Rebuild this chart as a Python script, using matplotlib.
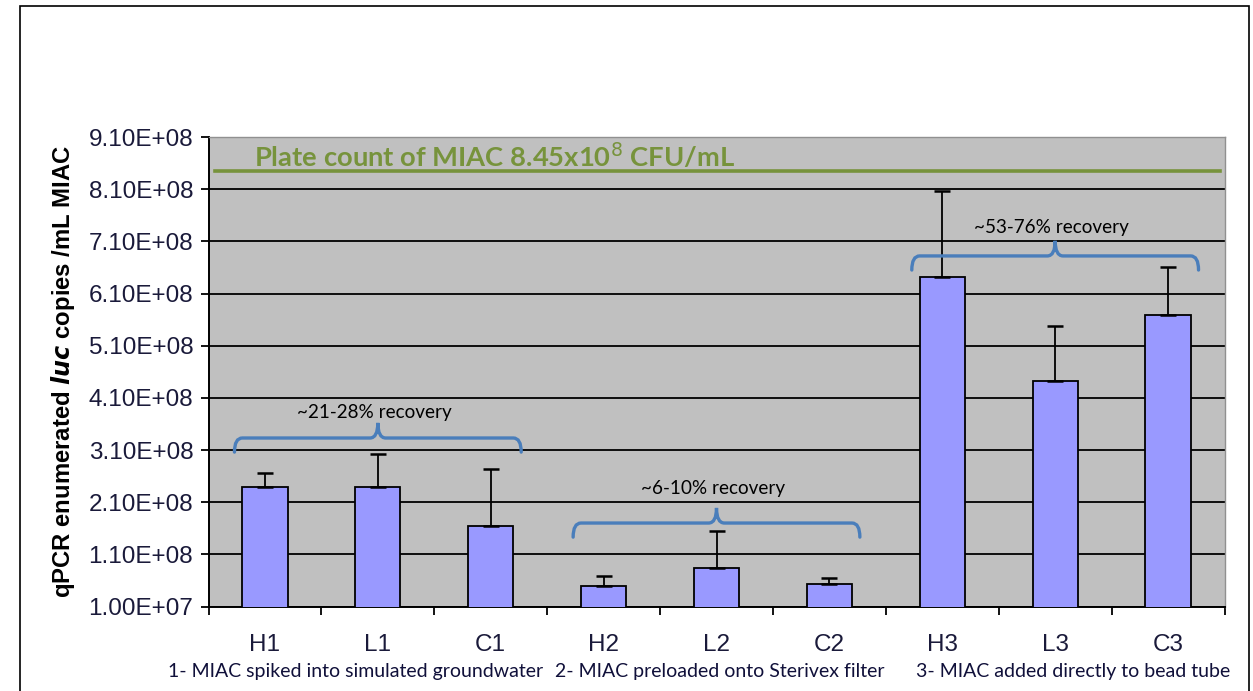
import numpy as np
import matplotlib.pyplot as plt
import matplotlib.transforms as mtransforms
from matplotlib.path import Path
from matplotlib.patches import PathPatch, Rectangle

# =========================
# Data
# =========================
categories = ["H1", "L1", "C1", "H2", "L2", "C2", "H3", "L3", "C3"]
means = [2.39e8, 2.39e8, 1.645e8, 4.96e7, 8.3e7, 5.35e7, 6.42e8, 4.43e8, 5.68e8]
err_upper = [2.7e7, 6.4e7, 1.085e8, 1.94e7, 7.1e7, 1.15e7, 1.65e8, 1.04e8, 9.3e7]
plate_count = 8.45e8
y_ticks = [1.0e7 + k * 1.0e8 for k in range(10)]
group_labels = ["1- MIAC spiked into simulated groundwater",
                "2- MIAC preloaded onto Sterivex filter",
                "3- MIAC added directly to bead tube"]
group_label_x = [0.80, 4.03, 7.16]
recovery_labels = ["~21-28% recovery", "~6-10% recovery", "~53-76% recovery"]
brace_levels = [3.06e8, 1.43e8, 6.55e8]   # value at brace tips
recovery_text_y = [3.81e8, 2.37e8, 7.36e8]


def brace(ax, x0, x1, ytip, color="#4A7EBB"):
    # curly bracket opening downward, drawn in data units
    yline = ytip + 0.27e8
    ypeak = yline + 0.29e8
    xm = 0.5 * (x0 + x1)
    rx = 0.07
    verts = [(x0, ytip), (x0, yline), (x0 + rx, yline),
             (xm - rx, yline), (xm, yline), (xm, ypeak),
             (xm, yline), (xm + rx, yline),
             (x1 - rx, yline), (x1, yline), (x1, ytip)]
    codes = [Path.MOVETO, Path.CURVE3, Path.CURVE3,
             Path.LINETO, Path.CURVE3, Path.CURVE3,
             Path.CURVE3, Path.CURVE3,
             Path.LINETO, Path.CURVE3, Path.CURVE3]
    ax.add_patch(PathPatch(Path(verts, codes), fill=False, edgecolor=color,
                           lw=2.4, capstyle="round", zorder=4))
    return xm


def main():
    W, H = 1253, 691
    fig = plt.figure(figsize=(W / 100, H / 100), dpi=100)
    fig.patch.set_facecolor("white")

    # chart area border
    fig.add_artist(Rectangle((20 / W, -0.05), 1229 / W, 1.05 - 6 / H,
                             transform=fig.transFigure, fill=False,
                             edgecolor="black", lw=1.2))

    ax = fig.add_axes([208.5 / W, 1 - 606.5 / H, 1016 / W, 469.5 / H])
    ax.set_facecolor("#C0C0C0")

    x = np.arange(len(categories))
    ax.bar(x, means, width=0.4, color="#9999FF", edgecolor="black",
           lw=1.3, zorder=3)
    ax.errorbar(x, means, yerr=[np.zeros(len(means)), err_upper], fmt="none",
                ecolor="black", elinewidth=1.3, capsize=6, capthick=1.8,
                zorder=3)

    # plate count line
    ax.axhline(plate_count, xmin=0.006, xmax=0.996, color="#77933C", lw=2.6,
               zorder=4)
    ax.text(-0.1, 8.74e8, "Plate count of MIAC 8.45x10$^{8}$ CFU/mL",
            color="#77933C", fontsize=19.7, fontweight="bold", family="Lato",
            va="center", ha="left", zorder=5)

    # recovery braces
    for g, (lab, yt, ty) in enumerate(zip(recovery_labels, brace_levels,
                                          recovery_text_y)):
        xc = 3 * g + 1
        xm = brace(ax, xc - 1.27, xc + 1.27, yt)
        ax.text(xm - 0.03, ty, lab, ha="center", va="center",
                fontsize=13.6, family="Lato", color="black", zorder=5)

    ax.set_xlim(-0.5, len(categories) - 0.5)
    ax.set_ylim(1.0e7, 9.1e8)
    ax.set_yticks(y_ticks)
    ax.set_yticklabels(["%.2fE+%02d" % (v / 10 ** int(np.floor(np.log10(v))),
                                       int(np.floor(np.log10(v))))
                        for v in y_ticks])
    ax.yaxis.grid(True, color="black", lw=1.3, zorder=1)
    ax.set_axisbelow(True)

    ax.set_xticks(x)
    ax.set_xticklabels(categories)
    ax.set_xticks(np.arange(len(categories) + 1) - 0.5, minor=True)
    ax.tick_params(axis="x", which="major", length=0, pad=20)
    ax.tick_params(axis="x", which="minor", length=6, width=1.3,
                   direction="out")
    ax.tick_params(axis="y", length=6, width=1.3, direction="out", pad=5)
    for lab in ax.get_xticklabels() + ax.get_yticklabels():
        lab.set_family("Liberation Sans")
        lab.set_fontsize(17.5)
        lab.set_color("#1a1a3a")

    for s in ["left", "bottom"]:
        ax.spines[s].set_color("black")
        ax.spines[s].set_linewidth(1.4)
    for s in ["top", "right"]:
        ax.spines[s].set_color("#909090")
        ax.spines[s].set_linewidth(1.0)

    ax.set_ylabel(r"qPCR enumerated $\mathbfit{luc}$ copies /mL MIAC",
                  fontsize=17.2, fontweight="bold", family="Liberation Sans",
                  labelpad=8)

    # group descriptions under the categories (data x, figure y)
    trans = mtransforms.blended_transform_factory(ax.transData, fig.transFigure)
    for lab, gx in zip(group_labels, group_label_x):
        fig.text(gx, 1 - 672 / H, lab, ha="center", va="center",
                 fontsize=14.0, family="Lato", color="#10103a",
                 transform=trans)

    fig.savefig("out.png", dpi=100)


if __name__ == "__main__":
    main()
